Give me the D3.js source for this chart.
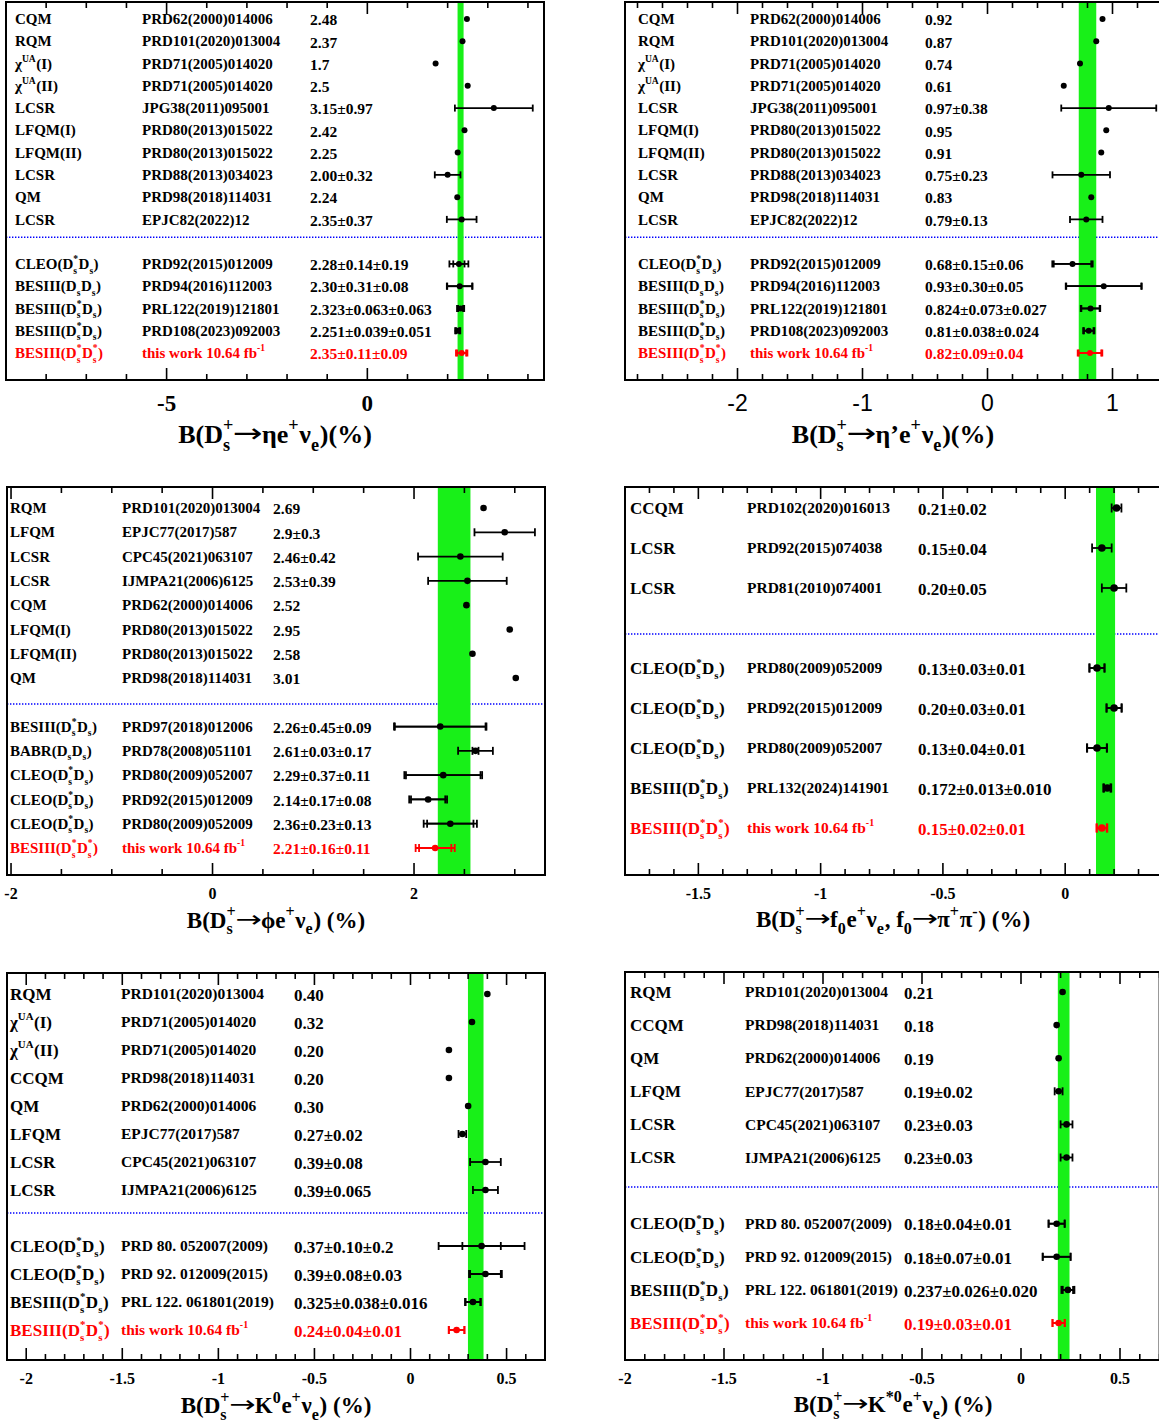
<!DOCTYPE html>
<html><head><meta charset="utf-8">
<script src="https://cdn.jsdelivr.net/npm/d3@7"></script>
<style>body{margin:0;background:#fff}svg{display:block}</style>
</head><body>
<svg id="c" width="1159" height="1424"></svg>
<script>
// ================= DATA =================
// Panel 1: Ds -> eta e nu
const etaLabels = ["CQM","RQM","χ^{UA}(I)","χ^{UA}(II)","LCSR","LFQM(I)","LFQM(II)","LCSR","QM","LCSR",
  "CLEO(D^{*}_{s}D_{s})","BESIII(D_{s}D_{s})","BESIII(D^{*}_{s}D_{s})","BESIII(D^{*}_{s}D_{s})","BESIII(D^{*}_{s}D^{*}_{s})"];
const etaRefs = ["PRD62(2000)014006","PRD101(2020)013004","PRD71(2005)014020","PRD71(2005)014020","JPG38(2011)095001",
  "PRD80(2013)015022","PRD80(2013)015022","PRD88(2013)034023","PRD98(2018)114031","EPJC82(2022)12",
  "PRD92(2015)012009","PRD94(2016)112003","PRL122(2019)121801","PRD108(2023)092003","this work 10.64 fb^{-1}"];
const etaText = ["2.48","2.37","1.7","2.5","3.15±0.97","2.42","2.25","2.00±0.32","2.24","2.35±0.37",
  "2.28±0.14±0.19","2.30±0.31±0.08","2.323±0.063±0.063","2.251±0.039±0.051","2.35±0.11±0.09"];
const etaVal  = [2.48,2.37,1.7,2.5,3.15,2.42,2.25,2.00,2.24,2.35, 2.28,2.30,2.323,2.251,2.35];
const etaStat = [0,0,0,0,0.97,0,0,0.32,0,0.37, 0.14,0.31,0.063,0.039,0.11];
const etaSyst = [0,0,0,0,0,0,0,0,0,0, 0.19,0.08,0.063,0.051,0.09];
const etaBand = [2.247, 2.397];
const etaTicks = [-5, 0];
const etaTitle = "B(D^{+}_{s}→ηe^{+}ν_{e})(%)";

// Panel 2: Ds -> eta' e nu
const etapLabels = etaLabels;
const etapRefs = etaRefs;
const etapText = ["0.92","0.87","0.74","0.61","0.97±0.38","0.95","0.91","0.75±0.23","0.83","0.79±0.13",
  "0.68±0.15±0.06","0.93±0.30±0.05","0.824±0.073±0.027","0.81±0.038±0.024","0.82±0.09±0.04"];
const etapVal  = [0.92,0.87,0.74,0.61,0.97,0.95,0.91,0.75,0.83,0.79, 0.68,0.93,0.824,0.81,0.82];
const etapStat = [0,0,0,0,0.38,0,0,0.23,0,0.13, 0.15,0.30,0.073,0.038,0.09];
const etapSyst = [0,0,0,0,0,0,0,0,0,0, 0.06,0.05,0.027,0.024,0.04];
const etapBand = [0.73, 0.87];
const etapTicks = [-2, -1, 0, 1];
const etapTitle = "B(D^{+}_{s}→η’e^{+}ν_{e})(%)";

// Panel 3: Ds -> phi e nu
const phiLabels = ["RQM","LFQM","LCSR","LCSR","CQM","LFQM(I)","LFQM(II)","QM",
  "BESIII(D^{*}_{s}D_{s})","BABR(D_{s}D_{s})","CLEO(D^{*}_{s}D_{s})","CLEO(D^{*}_{s}D_{s})","CLEO(D^{*}_{s}D_{s})","BESIII(D^{*}_{s}D^{*}_{s})"];
const phiRefs = ["PRD101(2020)013004","EPJC77(2017)587","CPC45(2021)063107","IJMPA21(2006)6125","PRD62(2000)014006",
  "PRD80(2013)015022","PRD80(2013)015022","PRD98(2018)114031",
  "PRD97(2018)012006","PRD78(2008)051101","PRD80(2009)052007","PRD92(2015)012009","PRD80(2009)052009","this work 10.64 fb^{-1}"];
const phiText = ["2.69","2.9±0.3","2.46±0.42","2.53±0.39","2.52","2.95","2.58","3.01",
  "2.26±0.45±0.09","2.61±0.03±0.17","2.29±0.37±0.11","2.14±0.17±0.08","2.36±0.23±0.13","2.21±0.16±0.11"];
const phiVal  = [2.69,2.9,2.46,2.53,2.52,2.95,2.58,3.01, 2.26,2.61,2.29,2.14,2.36,2.21];
const phiStat = [0,0.3,0.42,0.39,0,0,0,0, 0.45,0.03,0.37,0.17,0.23,0.16];
const phiSyst = [0,0,0,0,0,0,0,0, 0.09,0.17,0.11,0.08,0.13,0.11];
const phiBand = [2.236, 2.56];
const phiTicks = [-2, 0, 2];
const phiTitle = "B(D^{+}_{s}→ϕe^{+}ν_{e}) (%)";

// Panel 4: Ds -> f0 e nu, f0 -> pi pi
const f0Labels = ["CCQM","LCSR","LCSR",
  "CLEO(D^{*}_{s}D_{s})","CLEO(D^{*}_{s}D_{s})","CLEO(D^{*}_{s}D_{s})","BESIII(D^{*}_{s}D_{s})","BESIII(D^{*}_{s}D^{*}_{s})"];
const f0Refs = ["PRD102(2020)016013","PRD92(2015)074038","PRD81(2010)074001",
  "PRD80(2009)052009","PRD92(2015)012009","PRD80(2009)052007","PRL132(2024)141901","this work 10.64 fb^{-1}"];
const f0Text = ["0.21±0.02","0.15±0.04","0.20±0.05",
  "0.13±0.03±0.01","0.20±0.03±0.01","0.13±0.04±0.01","0.172±0.013±0.010","0.15±0.02±0.01"];
const f0Val  = [0.21,0.15,0.20, 0.13,0.20,0.13,0.172,0.15];
const f0Stat = [0.02,0.04,0.05, 0.03,0.03,0.04,0.013,0.02];
const f0Syst = [0,0,0, 0.01,0.01,0.01,0.010,0.01];
const f0Band = [0.126, 0.204];
const f0Ticks = [-1.5, -1, -0.5, 0];
const f0Title = "B(D^{+}_{s}→f_{0}e^{+}ν_{e}, f_{0}→π^{+}π^{-}) (%)";

// Panel 5: Ds -> K0 e nu
const k0Labels = ["RQM","χ^{UA}(I)","χ^{UA}(II)","CCQM","QM","LFQM","LCSR","LCSR",
  "CLEO(D^{*}_{s}D_{s})","CLEO(D^{*}_{s}D_{s})","BESIII(D^{*}_{s}D_{s})","BESIII(D^{*}_{s}D^{*}_{s})"];
const k0Refs = ["PRD101(2020)013004","PRD71(2005)014020","PRD71(2005)014020","PRD98(2018)114031","PRD62(2000)014006",
  "EPJC77(2017)587","CPC45(2021)063107","IJMPA21(2006)6125",
  "PRD 80. 052007(2009)","PRD 92. 012009(2015)","PRL 122. 061801(2019)","this work 10.64 fb^{-1}"];
const k0Text = ["0.40","0.32","0.20","0.20","0.30","0.27±0.02","0.39±0.08","0.39±0.065",
  "0.37±0.10±0.2","0.39±0.08±0.03","0.325±0.038±0.016","0.24±0.04±0.01"];
const k0Val  = [0.40,0.32,0.20,0.20,0.30,0.27,0.39,0.39, 0.37,0.39,0.325,0.24];
const k0Stat = [0,0,0,0,0,0.02,0.08,0.065, 0.10,0.08,0.038,0.04];
const k0Syst = [0,0,0,0,0,0,0,0, 0.2,0.03,0.016,0.01];
const k0Band = [0.299, 0.38];
const k0Ticks = [-2, -1.5, -1, -0.5, 0, 0.5];
const k0Title = "B(D^{+}_{s}→K^{0}e^{+}ν_{e}) (%)";

// Panel 6: Ds -> K*0 e nu
const kstLabels = ["RQM","CCQM","QM","LFQM","LCSR","LCSR",
  "CLEO(D^{*}_{s}D_{s})","CLEO(D^{*}_{s}D_{s})","BESIII(D^{*}_{s}D_{s})","BESIII(D^{*}_{s}D^{*}_{s})"];
const kstRefs = ["PRD101(2020)013004","PRD98(2018)114031","PRD62(2000)014006","EPJC77(2017)587","CPC45(2021)063107","IJMPA21(2006)6125",
  "PRD 80. 052007(2009)","PRD 92. 012009(2015)","PRL 122. 061801(2019)","this work 10.64 fb^{-1}"];
const kstText = ["0.21","0.18","0.19","0.19±0.02","0.23±0.03","0.23±0.03",
  "0.18±0.04±0.01","0.18±0.07±0.01","0.237±0.026±0.020","0.19±0.03±0.01"];
const kstVal  = [0.21,0.18,0.19,0.19,0.23,0.23, 0.18,0.18,0.237,0.19];
const kstStat = [0,0,0,0.02,0.03,0.03, 0.04,0.07,0.026,0.03];
const kstSyst = [0,0,0,0,0,0, 0.01,0.01,0.020,0.01];
const kstBand = [0.186, 0.245];
const kstTicks = [-2, -1.5, -1, -0.5, 0, 0.5];
const kstTitle = "B(D^{+}_{s}→K^{*0}e^{+}ν_{e}) (%)";

// ================= LAYOUT / STYLE =================
const SERIF = "'Liberation Serif','Times New Roman',serif";
const SANS = "'Liberation Sans',Arial,sans-serif";
const GREEN = "#18f018";
const RED = "#ff0000";

const panels = [
 {lab:etaLabels, ref:etaRefs, txt:etaText, val:etaVal, stat:etaStat, syst:etaSyst, nTheo:10, band:etaBand, ticks:etaTicks, title:etaTitle,
  x0:6, x1:544, y0:2, y1:380, dom:[-9,4.4], ry0:19, ry1:353, sep:9.8, cols:[15,142,310], fsLab:15, fsRef:15, fsVal:15.5,
  major:5, minor:1, tickFs:23, tickFam:SERIF, tickW:"bold", tickY:410.5, titleFs:26, titleY:443, r:3, cap:3.5},
 {lab:etapLabels, ref:etapRefs, txt:etapText, val:etapVal, stat:etapStat, syst:etapSyst, nTheo:10, band:etapBand, ticks:etapTicks, title:etapTitle,
  x0:625, x1:1162.5, y0:2, y1:380, dom:[-2.9,1.4], ry0:19, ry1:353, sep:9.8, cols:[638,750,925], fsLab:15, fsRef:15, fsVal:15.5,
  major:1, minor:0.2, tickFs:23, tickFam:SANS, tickW:"normal", tickY:411, titleFs:26, titleY:443, r:3, cap:3.5},
 {lab:phiLabels, ref:phiRefs, txt:phiText, val:phiVal, stat:phiStat, syst:phiSyst, nTheo:8, band:phiBand, ticks:phiTicks, title:phiTitle,
  x0:7, x1:545, y0:487, y1:875, dom:[-2.04,3.3], ry0:508, ry1:848, sep:8.07, cols:[10,122,273], fsLab:15, fsRef:15, fsVal:15.5,
  major:2, minor:0.5, tickFs:16, tickFam:SERIF, tickW:"bold", tickY:898.5, titleFs:23, titleY:927.5, r:3.3, cap:4},
 {lab:f0Labels, ref:f0Refs, txt:f0Text, val:f0Val, stat:f0Stat, syst:f0Syst, nTheo:3, band:f0Band, ticks:f0Ticks, title:f0Title,
  x0:625, x1:1163, y0:487, y1:875, dom:[-1.8,0.4], ry0:508, ry1:828, sep:3.15, cols:[630,747,918], fsLab:17, fsRef:15.5, fsVal:17,
  major:0.5, minor:0.1, tickFs:16, tickFam:SERIF, tickW:"bold", tickY:898.5, titleFs:23, titleY:927, r:3.8, cap:4.5},
 {lab:k0Labels, ref:k0Refs, txt:k0Text, val:k0Val, stat:k0Stat, syst:k0Syst, nTheo:8, band:k0Band, ticks:k0Ticks, title:k0Title,
  x0:7, x1:545, y0:973, y1:1360, dom:[-2.1,0.7], ry0:994, ry1:1330, sep:7.82, cols:[10,121,294], fsLab:17, fsRef:15.5, fsVal:17,
  major:0.5, minor:0.1, tickFs:16, tickFam:SERIF, tickW:"bold", tickY:1384, titleFs:23, titleY:1413, r:3.3, cap:4},
 {lab:kstLabels, ref:kstRefs, txt:kstText, val:kstVal, stat:kstStat, syst:kstSyst, nTheo:6, band:kstBand, ticks:kstTicks, title:kstTitle,
  x0:625, x1:1159.6, y0:972, y1:1360, dom:[-2,0.7], ry0:992, ry1:1323, sep:5.89, cols:[630,745,904], fsLab:17, fsRef:15.5, fsVal:17,
  major:0.5, minor:0.1, tickFs:16, tickFam:SERIF, tickW:"bold", tickY:1384, titleFs:23, titleY:1412, r:3.3, cap:4}
];

// ================= RICH TEXT =================
function parseRich(str) {
  const toks = []; let buf = ""; let i = 0;
  const readGroup = (k) => { const j = str.indexOf("}", k + 2); return [str.slice(k + 2, j), j + 1]; };
  const flush = () => {
    if (!buf) return;
    buf.split(/(→)/).forEach(s => { if (s === "→") toks.push({t: "arrow"}); else if (s) toks.push({t: "n", s}); });
    buf = "";
  };
  while (i < str.length) {
    const c = str[i];
    if ((c === "^" || c === "_") && str[i + 1] === "{") {
      flush();
      let [s1, ni] = readGroup(i); i = ni;
      const other = c === "^" ? "_" : "^";
      if (str[i] === other && str[i + 1] === "{") {
        let [s2, n2] = readGroup(i); i = n2;
        toks.push({t: "stack", sup: c === "^" ? s1 : s2, sub: c === "^" ? s2 : s1});
      } else toks.push({t: c === "^" ? "sup" : "sub", s: s1});
    } else { buf += c; i++; }
  }
  flush();
  return toks;
}
function drawRich(parent, str, x, y, fs, o) {
  o = Object.assign({fill: "#000", fam: SERIF, w: "bold", anchor: "start", sc: 0.64}, o || {});
  const g = parent.append("g");
  let cx = 0;
  const put = (s, dy, size) => {
    const t = g.append("text").attr("x", cx).attr("y", dy)
      .attr("font-family", o.fam).attr("font-weight", o.w).attr("font-size", size)
      .attr("fill", o.fill).text(s);
    return t.node().getComputedTextLength();
  };
  const ss = fs * o.sc, supY = -fs * 0.45, subY = fs * 0.3;
  parseRich(str).forEach(tk => {
    if (tk.t === "n") cx += put(tk.s, 0, fs);
    else if (tk.t === "arrow") {
      const L = fs * 1.15;
      const t = g.append("text").attr("x", 0).attr("y", 0)
        .attr("font-family", "'DejaVu Sans',sans-serif").attr("font-weight", "normal").attr("font-size", fs)
        .attr("fill", o.fill).text("→");
      const w = t.node().getComputedTextLength();
      t.attr("transform", `translate(${cx - fs * 0.04},${-fs * 0.04}) scale(${L / w},1)`);
      cx += L - fs * 0.08;
    }
    else if (tk.t === "sup") cx += put(tk.s, supY, ss) + fs * 0.03;
    else if (tk.t === "sub") cx += put(tk.s, subY, ss) + fs * 0.03;
    else { const a = put(tk.sup, supY, ss); const b = put(tk.sub, subY, ss); cx += Math.max(a, b) + fs * 0.03; }
  });
  const dx = o.anchor === "middle" ? -cx / 2 : 0;
  g.attr("transform", `translate(${x + dx},${y})`);
  return g;
}

// ================= DRAW =================
const svg = d3.select("#c");
svg.append("rect").attr("width", 1159).attr("height", 1424).attr("fill", "#fff");

function stepRange(d0, d1, step) {
  const out = [];
  for (let k = Math.ceil(d0 / step - 1e-9); k <= Math.floor(d1 / step + 1e-9); k++) out.push(+(k * step).toFixed(6));
  return out;
}

panels.forEach(p => {
  const g = svg.append("g");
  const n = p.val.length;
  const x = d3.scaleLinear().domain(p.dom).range([p.x0, p.x1]);
  const rowIdx = d3.range(n).map(i => i < p.nTheo ? i : i + 1);
  const y = d3.scaleLinear().domain([0, n]).range([p.ry0, p.ry1]);

  // separator
  g.append("line").attr("x1", p.x0).attr("x2", p.x1)
    .attr("y1", y(p.sep)).attr("y2", y(p.sep))
    .attr("stroke", "#0000ff").attr("stroke-width", 1.4).attr("stroke-dasharray", "1.4,1.6");

  // band
  g.append("rect").attr("x", x(p.band[0])).attr("width", x(p.band[1]) - x(p.band[0]))
    .attr("y", p.y0).attr("height", p.y1 - p.y0).attr("fill", GREEN);

  // frame + ticks
  const majors = stepRange(p.dom[0], p.dom[1], p.major);
  const minors = stepRange(p.dom[0], p.dom[1], p.minor).filter(v => Math.abs(v / p.major - Math.round(v / p.major)) > 1e-6);
  const tg = g.append("g").attr("stroke", "#000").attr("stroke-width", 1.6);
  [[majors, 12], [minors, 6]].forEach(([vals, len]) => {
    vals.forEach(v => {
      tg.append("line").attr("x1", x(v)).attr("x2", x(v)).attr("y1", p.y1).attr("y2", p.y1 - len);
      tg.append("line").attr("x1", x(v)).attr("x2", x(v)).attr("y1", p.y0).attr("y2", p.y0 + len);
    });
  });
  g.append("rect").attr("x", p.x0).attr("y", p.y0).attr("width", p.x1 - p.x0).attr("height", p.y1 - p.y0)
    .attr("fill", "none").attr("stroke", "#000").attr("stroke-width", 2);

  // tick labels
  p.ticks.forEach(v => {
    g.append("text").attr("x", x(v)).attr("y", p.tickY).attr("text-anchor", "middle")
      .attr("font-family", p.tickFam).attr("font-weight", p.tickW).attr("font-size", p.tickFs)
      .text(String(v));
  });

  // title
  drawRich(g, p.title, (p.x0 + Math.min(p.x1, 1159)) / 2 + (p.x1 > 1159 ? 1 : 0), p.titleY, p.titleFs, {anchor: "middle", sc: 0.7});

  // rows
  d3.range(n).forEach(i => {
    const yy = y(rowIdx[i]);
    const col = (i === n - 1) ? RED : "#000";
    drawRich(g, p.lab[i], p.cols[0], yy + p.fsLab * 0.34, p.fsLab, {fill: col});
    drawRich(g, p.ref[i], p.cols[1], yy + p.fsRef * 0.34, p.fsRef, {fill: col});
    drawRich(g, p.txt[i], p.cols[2], yy + p.fsVal * 0.34 + 1, p.fsVal, {fill: col});

    const v = p.val[i], st = p.stat[i], sy = p.syst[i];
    const eg = g.append("g").attr("stroke", col).attr("stroke-width", 1.8);
    const bar = (e) => {
      eg.append("line").attr("x1", x(v - e)).attr("x2", x(v + e)).attr("y1", yy).attr("y2", yy);
      [v - e, v + e].forEach(xx => eg.append("line").attr("x1", x(xx)).attr("x2", x(xx))
        .attr("y1", yy - p.cap).attr("y2", yy + p.cap));
    };
    if (st > 0) bar(st);
    if (sy > 0) bar(Math.sqrt(st * st + sy * sy));
    g.append("circle").attr("cx", x(v)).attr("cy", yy).attr("r", p.r).attr("fill", col);
  });
});
</script>
</body></html>
